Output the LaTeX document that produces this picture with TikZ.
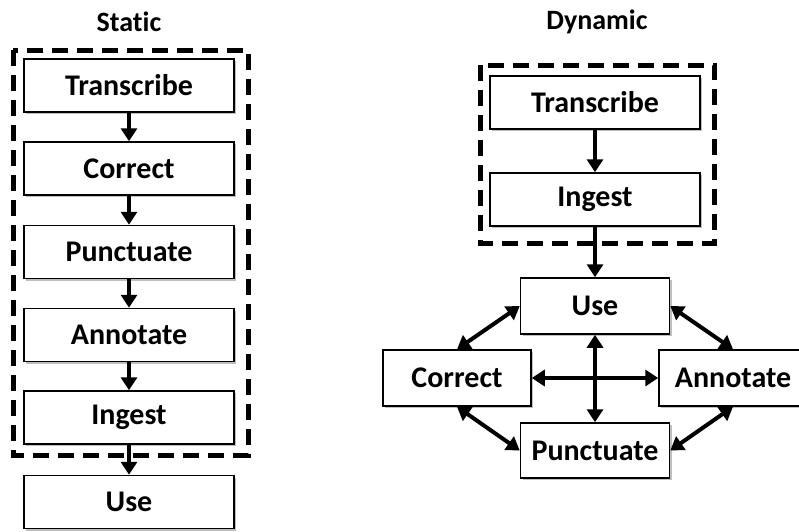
\documentclass[tikz,border=0pt]{standalone}
\usepackage{fontspec}
\setmainfont{Carlito}[Ligatures=NoCommon]
\usetikzlibrary{arrows.meta, positioning, shadows}
\tikzset{
  stepbox/.style={rectangle, draw, line width=1.5pt, fill=white, minimum width=210pt, minimum height=53pt,
    inner sep=0pt, font=\fontsize{30}{33}\selectfont\bfseries,
    drop shadow={shadow xshift=2pt, shadow yshift=-2pt, fill=black, opacity=0.25}},
  loopbox/.style={stepbox, minimum width=149pt, minimum height=56pt},
  groupbox/.style={draw, line width=5pt, dash pattern=on 16pt off 9pt},
  flow/.style={-{Triangle[length=13pt, width=16pt]}, line width=4pt},
  both/.style={{Triangle[length=13pt, width=16pt]}-{Triangle[length=13pt, width=16pt]}, line width=4pt},
  title/.style={font=\fontsize{28}{31}\selectfont\bfseries},
}
\begin{document}
\begin{tikzpicture}[x=1pt, y=-1pt]
  \useasboundingbox (0,0) rectangle (799,531);
  % static pipeline
  \node[title] (statT) at (129, 22) {Static};
  \draw[groupbox] (13,50) rectangle (248,455);
  \foreach \n/\y/\t in {sTr/85.5/Transcribe, sCo/168.5/Correct, sPu/252/Punctuate,
                        sAn/335/Annotate, sIn/417.5/Ingest, sUs/502/Use}
    \node[stepbox] (\n) at (129, \y) {\t};
  \foreach \a/\b in {sTr/sCo, sCo/sPu, sPu/sAn, sAn/sIn, sIn/sUs}
    \draw[flow] (\a) -- (\b);
  % dynamic pipeline
  \node[title] (dynT) at (597, 22) {Dynamic};
  \draw[groupbox] (480,65) rectangle (714,243);
  \node[stepbox] (dTr) at (595, 102.5) {Transcribe};
  \node[stepbox] (dIn) at (595, 199.5) {Ingest};
  \node[loopbox] (dUs) at (595, 306) {Use};
  \node[loopbox, minimum width=148pt] (dCo) at (457, 378) {Correct};
  \node[loopbox, minimum width=148pt] (dAn) at (733, 378) {Annotate};
  \node[loopbox, minimum height=55pt] (dPu) at (595, 450.5) {Punctuate};
  \draw[flow] (dTr) -- (dIn);
  \draw[flow] (dIn) -- (dUs);
  % cycle between steps
  \draw[both] (dUs.west) -- (dCo.north);
  \draw[both] (dUs.east) -- (dAn.north);
  \draw[both] (dCo.south) -- (dPu.west);
  \draw[both] (dAn.south) -- (dPu.east);
  \draw[both] (dCo) -- (dAn);
  \draw[both] (dUs) -- (dPu);
\end{tikzpicture}
\end{document}
